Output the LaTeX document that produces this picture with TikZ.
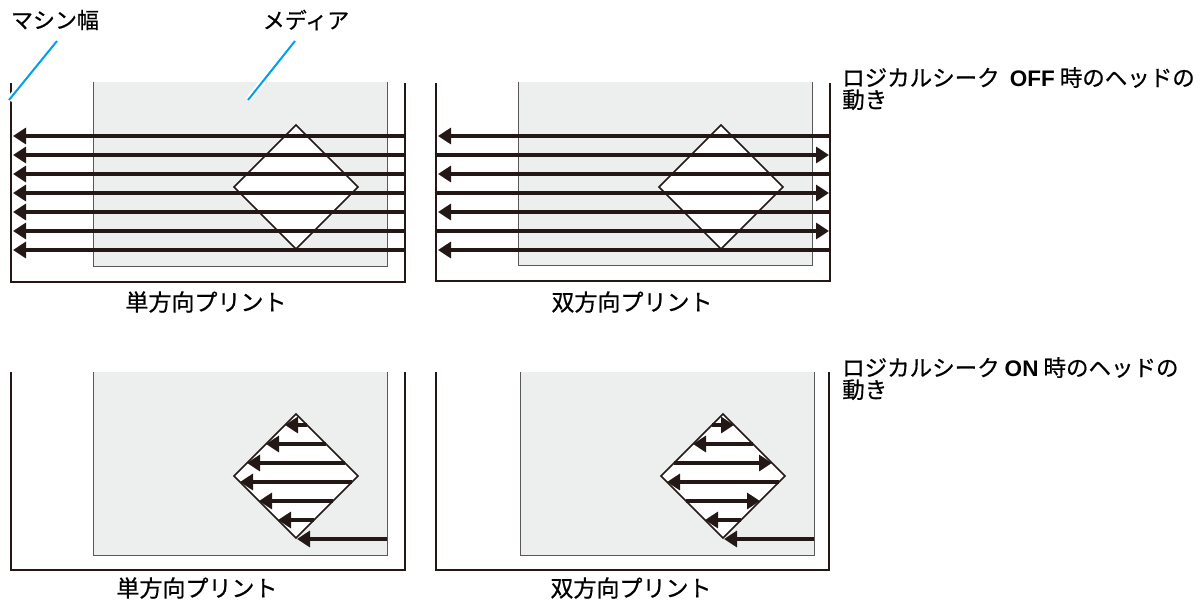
\documentclass[tikz,border=0pt]{standalone}
\usepackage{fontspec}
\newfontfamily\jp[FakeBold=0.6]{Noto Sans CJK JP}
\newfontfamily\lat{Liberation Sans}
\usetikzlibrary{arrows.meta}
\definecolor{ink}{RGB}{35,24,21}
\definecolor{mediafill}{RGB}{237,238,238}
\definecolor{edgegray}{RGB}{89,87,87}
\definecolor{leadblue}{RGB}{0,160,233}
\begin{document}
\begin{tikzpicture}[x=1pt,y=-1pt,
  frame/.style={draw=ink,line width=2pt},
  mediaedge/.style={draw=edgegray,line width=1pt},
  gem/.style={draw=ink,fill=white,line width=1.5pt,line join=miter},
  arr/.style={draw=ink,line width=4pt,-{Triangle[length=13pt,width=16pt]}},
  leader/.style={draw=leadblue,line width=2pt,preaction={draw=white,line width=6pt}},
  lbl/.style={font=\jp\fontsize{22}{22}\selectfont,inner sep=0pt},
  printlbl/.style={font=\jp\fontsize{23}{23}\selectfont,inner sep=0pt},
  side/.style={font=\jp\fontsize{22.5}{22}\selectfont,inner sep=0pt,align=left,anchor=north west}]
\useasboundingbox (0,0) rectangle (1203,600);

% ---------- top left: unidirectional, logical seek OFF ----------
\fill[mediafill] (93,82) rectangle (387,266);
\draw[mediaedge] (93,82) -- (93,266) -- (387,266) -- (387,82);
\draw[frame] (11,83) -- (11,282) -- (405,282) -- (405,83);
\draw[gem] (296,125) -- (358,187) -- (296,249) -- (234,187) -- cycle;
\foreach \y in {136,155,174,193,212,231,250}
  \draw[arr] (405,\y) -- (13,\y);

% ---------- top right: bidirectional, logical seek OFF ----------
\fill[mediafill] (518,82) rectangle (812,265);
\draw[mediaedge] (518,82) -- (518,265) -- (812,265) -- (812,82);
\draw[frame] (436,83) -- (436,281) -- (830,281) -- (830,83);
\draw[gem] (721,125) -- (783,187) -- (721,249) -- (659,187) -- cycle;
\foreach \y in {136,174,212,250}
  \draw[arr] (830,\y) -- (438,\y);
\foreach \y in {155,193,231}
  \draw[arr] (436,\y) -- (829,\y);

% ---------- bottom left: unidirectional, logical seek ON ----------
\fill[mediafill] (93,372) rectangle (387,555);
\draw[mediaedge] (93,372) -- (93,555) -- (387,555) -- (387,372);
\draw[frame] (11,372) -- (11,570) -- (405,570) -- (405,372);
\draw[gem] (296,414) -- (358,476) -- (296,538) -- (234,476) -- cycle;
\foreach \y in {425,444,463,482,501,520}{
  \pgfmathsetmacro{\hw}{62-abs(\y-476)}
  \draw[arr] ({296+\hw},\y) -- ({296-\hw},\y);
}
\draw[arr] (387,539) -- (297,539);

% ---------- bottom right: bidirectional, logical seek ON ----------
\fill[mediafill] (520,372) rectangle (814,555);
\draw[mediaedge] (520,372) -- (520,555) -- (814,555) -- (814,372);
\draw[frame] (436,372) -- (436,570) -- (829,570) -- (829,372);
\draw[gem] (723,414) -- (785,476) -- (723,538) -- (661,476) -- cycle;
\foreach \y in {425,463,501}{
  \pgfmathsetmacro{\hw}{62-abs(\y-476)}
  \draw[arr] ({723-\hw},\y) -- ({723+\hw},\y);
}
\foreach \y in {444,482,520}{
  \pgfmathsetmacro{\hw}{62-abs(\y-476)}
  \draw[arr] ({723+\hw},\y) -- ({723-\hw},\y);
}
\draw[arr] (814,539) -- (724,539);

% ---------- labels ----------
\node[lbl] (machine) at (55,20) {マシン幅};
\node[lbl] (media) at (306,20) {メディア};
\coordinate (mtip) at (9,100);
\coordinate (dtip) at (248,100);
\draw[leader] (57,41) -- (mtip);
\draw[leader] (295,41) -- (dtip);

\node[printlbl] (uniA) at (206,302) {単方向プリント};
\node[printlbl] (biA) at (632,302) {双方向プリント};
\node[printlbl] (uniB) at (197,588) {単方向プリント};
\node[printlbl] (biB) at (631,588) {双方向プリント};

\node[side] (offlbl) at (842,67) {ロジカルシーク\ \ {\lat\bfseries OFF} 時のヘッドの\\動き};
\node[side] (onlbl) at (842,357) {ロジカルシーク {\lat\bfseries ON} 時のヘッドの\\動き};
\end{tikzpicture}
\end{document}
